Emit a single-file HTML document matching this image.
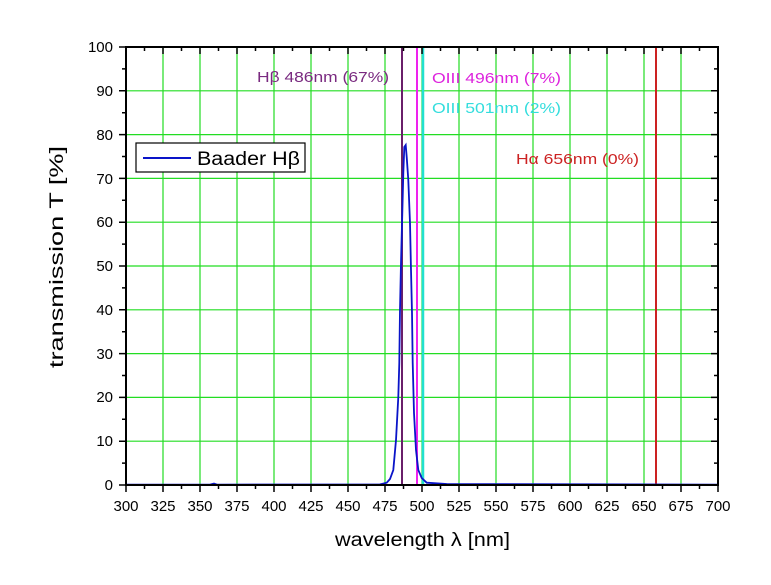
<!DOCTYPE html>
<html><head><style>
body{margin:0;background:#fff;}
svg text{font-family:"Liberation Sans",Arial,sans-serif;}
</style></head><body>
<svg width="771" height="580" viewBox="0 0 771 580" xmlns="http://www.w3.org/2000/svg">
<rect width="771" height="580" fill="#fff"/>
<g stroke="#22dd22" stroke-width="1.2">
<line x1="163" y1="47" x2="163" y2="485"/><line x1="200" y1="47" x2="200" y2="485"/><line x1="237" y1="47" x2="237" y2="485"/><line x1="274" y1="47" x2="274" y2="485"/><line x1="311" y1="47" x2="311" y2="485"/><line x1="348" y1="47" x2="348" y2="485"/><line x1="385" y1="47" x2="385" y2="485"/><line x1="422" y1="47" x2="422" y2="485"/><line x1="459" y1="47" x2="459" y2="485"/><line x1="496" y1="47" x2="496" y2="485"/><line x1="533" y1="47" x2="533" y2="485"/><line x1="570" y1="47" x2="570" y2="485"/><line x1="607" y1="47" x2="607" y2="485"/><line x1="644" y1="47" x2="644" y2="485"/><line x1="681" y1="47" x2="681" y2="485"/>
<line x1="126" y1="441.2" x2="718" y2="441.2"/><line x1="126" y1="397.4" x2="718" y2="397.4"/><line x1="126" y1="353.6" x2="718" y2="353.6"/><line x1="126" y1="309.8" x2="718" y2="309.8"/><line x1="126" y1="266" x2="718" y2="266"/><line x1="126" y1="222.2" x2="718" y2="222.2"/><line x1="126" y1="178.4" x2="718" y2="178.4"/><line x1="126" y1="134.6" x2="718" y2="134.6"/><line x1="126" y1="90.8" x2="718" y2="90.8"/>
</g>
<line x1="402" y1="47" x2="402" y2="485" stroke="#6a1f6a" stroke-width="2"/>
<line x1="417" y1="47" x2="417" y2="485" stroke="#ee22ee" stroke-width="2"/>
<line x1="423" y1="47" x2="423" y2="485" stroke="#22e0d0" stroke-width="2.5"/>
<line x1="656" y1="47" x2="656" y2="485" stroke="#cc2222" stroke-width="2"/>
<polyline fill="none" stroke="#0a14c8" stroke-width="1.8" points="126,484.6 210,484.6 214,483.6 217,484.6 380,484.4 386.7,482.7 390,479 393.3,470 396,440 398.3,397 399.3,363 400,310 401,263 402.3,213 403.3,173 404.3,147 405.7,145 406.7,157 408.3,180 410,223 411,270 412,313 412.7,363 414,413 416,450 418.3,470 421.7,478 426.7,482.7 446.7,484 718,484.6"/>
<g stroke="#000" stroke-width="2" fill="none">
<rect x="126" y="47" width="592" height="438"/>
</g>
<g stroke="#000" stroke-width="1.5">
<path d="M126 485v7M163 485v7M200 485v7M237 485v7M274 485v7M311 485v7M348 485v7M385 485v7M422 485v7M459 485v7M496 485v7M533 485v7M570 485v7M607 485v7M644 485v7M681 485v7M718 485v7"/>
<path d="M144.5 485v4M181.5 485v4M218.5 485v4M255.5 485v4M292.5 485v4M329.5 485v4M366.5 485v4M403.5 485v4M440.5 485v4M477.5 485v4M514.5 485v4M551.5 485v4M588.5 485v4M625.5 485v4M662.5 485v4M699.5 485v4"/>
<path d="M163 47v7M200 47v7M237 47v7M274 47v7M311 47v7M348 47v7M385 47v7M422 47v7M459 47v7M496 47v7M533 47v7M570 47v7M607 47v7M644 47v7M681 47v7"/>
<path d="M144.5 47v4M181.5 47v4M218.5 47v4M255.5 47v4M292.5 47v4M329.5 47v4M366.5 47v4M403.5 47v4M440.5 47v4M477.5 47v4M514.5 47v4M551.5 47v4M588.5 47v4M625.5 47v4M662.5 47v4M699.5 47v4"/>
<path d="M126 485h-7M126 441.2h-7M126 397.4h-7M126 353.6h-7M126 309.8h-7M126 266h-7M126 222.2h-7M126 178.4h-7M126 134.6h-7M126 90.8h-7M126 47h-7"/>
<path d="M126 463.1h-4M126 419.3h-4M126 375.5h-4M126 331.7h-4M126 287.9h-4M126 244.1h-4M126 200.3h-4M126 156.5h-4M126 112.7h-4M126 68.9h-4"/>
<path d="M718 441.2h-7M718 397.4h-7M718 353.6h-7M718 309.8h-7M718 266h-7M718 222.2h-7M718 178.4h-7M718 134.6h-7M718 90.8h-7"/>
<path d="M718 463.1h-4M718 419.3h-4M718 375.5h-4M718 331.7h-4M718 287.9h-4M718 244.1h-4M718 200.3h-4M718 156.5h-4M718 112.7h-4M718 68.9h-4"/>
</g>
<g font-size="15" fill="#000" text-anchor="middle">
<text x="126" y="511">300</text><text x="163" y="511">325</text><text x="200" y="511">350</text><text x="237" y="511">375</text><text x="274" y="511">400</text><text x="311" y="511">425</text><text x="348" y="511">450</text><text x="385" y="511">475</text><text x="422" y="511">500</text><text x="459" y="511">525</text><text x="496" y="511">550</text><text x="533" y="511">575</text><text x="570" y="511">600</text><text x="607" y="511">625</text><text x="644" y="511">650</text><text x="681" y="511">675</text><text x="718" y="511">700</text>
</g>
<g font-size="15" fill="#000" text-anchor="end">
<text x="113" y="490">0</text><text x="113" y="446">10</text><text x="113" y="402">20</text><text x="113" y="359">30</text><text x="113" y="315">40</text><text x="113" y="271">50</text><text x="113" y="227">60</text><text x="113" y="184">70</text><text x="113" y="140">80</text><text x="113" y="96">90</text><text x="113" y="52">100</text>
</g>
<text x="335" y="546" font-size="19" fill="#000" textLength="175" lengthAdjust="spacingAndGlyphs">wavelength λ [nm]</text>
<text transform="translate(63,368) rotate(-90)" font-size="19" fill="#000" textLength="222" lengthAdjust="spacingAndGlyphs">transmission T [%]</text>
<rect x="136" y="143" width="169" height="29" fill="#fff" stroke="#000" stroke-width="1.2"/>
<line x1="143" y1="158" x2="191" y2="158" stroke="#0a14c8" stroke-width="2"/>
<text x="197" y="165" font-size="19" fill="#000" textLength="103" lengthAdjust="spacingAndGlyphs">Baader Hβ</text>
<g font-size="15">
<text x="257" y="82" fill="#7a2a80" textLength="132" lengthAdjust="spacingAndGlyphs">Hβ 486nm (67%)</text>
<text x="432" y="83" fill="#dd22dd" textLength="129" lengthAdjust="spacingAndGlyphs">OIII 496nm (7%)</text>
<text x="432" y="113" fill="#33dddd" textLength="129" lengthAdjust="spacingAndGlyphs">OIII 501nm (2%)</text>
<text x="516" y="164" fill="#cc2222" textLength="123" lengthAdjust="spacingAndGlyphs">Hα 656nm (0%)</text>
</g>
</svg>
</body></html>
